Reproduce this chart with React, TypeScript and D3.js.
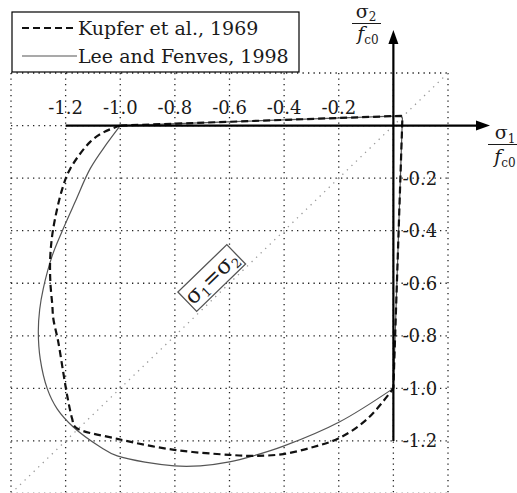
import * as d3 from "d3";

// grid positions (both axes) and tick labels
const gridValues = [-1.4, -1.2, -1.0, -0.8, -0.6, -0.4, -0.2, 0, 0.2];
const topTicks = [-1.2, -1.0, -0.8, -0.6, -0.4, -0.2];
const rightTicks = [-0.2, -0.4, -0.6, -0.8, -1.0, -1.2];

// tension branch shared by both envelopes (sigma1/fc0, sigma2/fc0)
const tensionS1 = [-1.0, 0.028, 0.033, 0];
const tensionS2 = [0, 0.037, 0.028, -1.0];

// Kupfer et al., 1969 - compression branch
const kupferS1 = [
  -1.0, -1.06, -1.11, -1.183, -1.212, -1.245, -1.256, -1.256, -1.249, -1.245,
  -1.227, -1.209, -1.194, -1.176, -1.165, -1.011, -0.802, -0.6, -0.513,
  -0.403, -0.293, -0.198, -0.095, 0,
];
const kupferS2 = [
  0, -0.025, -0.062, -0.164, -0.24, -0.39, -0.495, -0.594, -0.68, -0.735,
  -0.823, -0.937, -1.029, -1.116, -1.147, -1.192, -1.234, -1.253, -1.257,
  -1.25, -1.223, -1.189, -1.116, -1.0,
];

// Lee and Fenves, 1998 - compression branch
const leeS1 = [
  -1.0, -1.05, -1.11, -1.165, -1.212, -1.249, -1.282, -1.295, -1.3, -1.293,
  -1.267, -1.231, -1.172, -1.073, -1.011, -0.802, -0.707, -0.6, -0.513, -0.4,
  -0.198, 0,
];
const leeS2 = [
  0, -0.07, -0.164, -0.29, -0.4, -0.495, -0.621, -0.7, -0.785, -0.888,
  -1.002, -1.078, -1.147, -1.223, -1.257, -1.295, -1.295, -1.28, -1.257,
  -1.219, -1.128, -1.0,
];

const legendLabels = ["Kupfer et al., 1969", "Lee and Fenves, 1998"];

const W = 517;
const H = 493;
const serif = "'DejaVu Serif', serif";
const ink = "#1a1a1a";

export default function App() {
  const x = d3.scaleLinear().domain([-1.4, 0.2]).range([11, 448]);
  const y = d3.scaleLinear().domain([0.2, -1.4]).range([73, 493.5]);

  const straight = d3
    .line<[number, number]>()
    .x((d) => x(d[0]))
    .y((d) => y(d[1]));
  const smooth = straight.curve(d3.curveCatmullRom.alpha(0.5));

  const pairs = (a: number[], b: number[]) =>
    a.map((v, i) => [v, b[i]] as [number, number]);

  const tension = straight.curve(d3.curveLinear)(pairs(tensionS1, tensionS2)) ?? "";
  const kupfer = tension + (smooth.curve(d3.curveCatmullRom.alpha(0.5))(pairs(kupferS1, kupferS2)) ?? "");
  const lee = tension + (smooth.curve(d3.curveCatmullRom.alpha(0.5))(pairs(leeS1, leeS2)) ?? "");

  const x0 = x(0);
  const y0 = y(0);
  const gridDash = "1.3 4.2";

  return (
    <div style={{ position: "fixed", left: 0, top: 0 }}>
      <svg width={W} height={H} style={{ display: "block", background: "#fff" }}>
        {/* dotted grid */}
        <g stroke="#222" strokeWidth={1.3} strokeDasharray={gridDash}>
          {gridValues.map((v) => (
            <line key={"v" + v} x1={x(v)} x2={x(v)} y1={y(0.2)} y2={y(-1.4)} />
          ))}
          {gridValues.map((v) => (
            <line key={"h" + v} x1={x(-1.4)} x2={x(0.2)} y1={y(v)} y2={y(v)} />
          ))}
        </g>

        {/* sigma1 = sigma2 diagonal */}
        <line
          x1={x(-1.4)}
          y1={y(-1.4)}
          x2={x(0.2)}
          y2={y(0.2)}
          stroke="#9a9a9a"
          strokeWidth={1.3}
          strokeDasharray="1.3 5"
        />

        {/* curves */}
        <path d={lee} fill="none" stroke="#555" strokeWidth={1.2} />
        <path
          d={kupfer}
          fill="none"
          stroke="#111"
          strokeWidth={2.2}
          strokeDasharray="7 4"
        />

        {/* axes */}
        <g stroke="#000" strokeWidth={2.2}>
          <line x1={x(-1.2)} x2={480} y1={y0} y2={y0} />
          <line x1={x0} x2={x0} y1={y(-1.2)} y2={40} />
        </g>
        <path d={`M490,${y0} L476,${y0 - 5} L476,${y0 + 5} Z`} fill="#000" />
        <path d={`M${x0},30 L${x0 - 5},44 L${x0 + 5},44 Z`} fill="#000" />

        {/* tick labels */}
        <g fontFamily={serif} fontSize={18} fill={ink}>
          {topTicks.map((v) => (
            <text key={"t" + v} x={x(v)} y={y0 - 12} textAnchor="middle">
              {v.toFixed(1)}
            </text>
          ))}
          {rightTicks.map((v) => (
            <text key={"r" + v} x={x0 + 9} y={y(v) + 6.5}>
              {v.toFixed(1)}
            </text>
          ))}
        </g>

        {/* axis titles */}
        <g fontFamily={serif} fontSize={19} fill={ink} textAnchor="middle">
          <text x={505} y={139}>
            σ<tspan fontSize={12} dy={4}>1</tspan>
          </text>
          <line x1={488} x2={518} y1={144.5} y2={144.5} stroke={ink} strokeWidth={1} />
          <text x={505} y={163} fontStyle="italic">
            f<tspan fontSize={12} dy={4} fontStyle="normal">c0</tspan>
          </text>

          <text x={366} y={18}>
            σ<tspan fontSize={12} dy={3}>2</tspan>
          </text>
          <line x1={352} x2={381} y1={23.5} y2={23.5} stroke={ink} strokeWidth={1} />
          <text x={368} y={40} fontStyle="italic">
            f<tspan fontSize={12} dy={4} fontStyle="normal">c0</tspan>
          </text>
        </g>

        {/* σ1 = σ2 tag */}
        <g transform={`translate(${x(-0.665)},${y(-0.58)}) rotate(-44)`}>
          <rect x={-34} y={-13.5} width={68} height={27} fill="#fff" stroke="#555" strokeWidth={1.3} />
          <text x={0} y={7} textAnchor="middle" fontFamily={serif} fontSize={22} fill={ink}>
            σ<tspan fontSize={13} dy={4}>1</tspan>
            <tspan dy={-4}>=σ</tspan>
            <tspan fontSize={13} dy={4}>2</tspan>
          </text>
        </g>

        {/* legend */}
        <g>
          <rect x={12} y={12} width={287} height={60} fill="#fff" stroke="#000" strokeWidth={1.2} />
          {legendLabels.map((label, i) => {
            const cy = 28 + i * 28;
            return (
              <g key={label}>
                <line
                  x1={22}
                  x2={77}
                  y1={cy}
                  y2={cy}
                  stroke={i === 0 ? "#111" : "#555"}
                  strokeWidth={i === 0 ? 2.2 : 1.2}
                  strokeDasharray={i === 0 ? "7 4" : undefined}
                />
                <text x={78} y={cy + 7} fontFamily={serif} fontSize={19} fill={ink}>
                  {label}
                </text>
              </g>
            );
          })}
        </g>
      </svg>
    </div>
  );
}
